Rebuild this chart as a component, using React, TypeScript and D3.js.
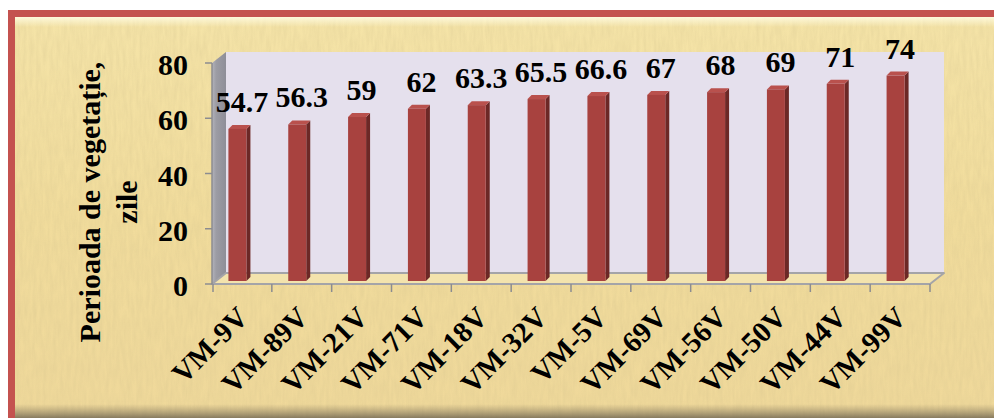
import * as d3 from "d3";

const categories = ["VM-9V", "VM-89V", "VM-21V", "VM-71V", "VM-18V", "VM-32V", "VM-5V", "VM-69V", "VM-56V", "VM-50V", "VM-44V", "VM-99V"];
const values = [54.7, 56.3, 59, 62, 63.3, 65.5, 66.6, 67, 68, 69, 71, 74];
const valueLabels = ["54.7", "56.3", "59", "62", "63.3", "65.5", "66.6", "67", "68", "69", "71", "74"];
const yTicks = [0, 20, 40, 60, 80];
const titleLines = ["Perioada de vegetație,", "zile"];

const W = 994;
const H = 418;
const txt = {
  fontFamily: '"Liberation Serif", "Times New Roman", Times, "DejaVu Serif", serif',
  fontWeight: 700,
} as const;

export default function App() {
  // front plane of the 3D box, back wall shifted by depth
  const depth = { dx: 14, dy: -11 };
  const x = d3.scaleBand().domain(categories).range([212, 930]);
  const y = d3.scaleLinear().domain([0, 80]).range([284, 63]);
  const bw = x.bandwidth();
  const barW = 18;
  const barD = 4;

  const x0 = 212;
  const x1 = 930;
  const yb = y(0);
  const yt = y(80);

  return (
    <svg width={W} height={H} style={{ position: "absolute", left: 0, top: 0 }}>
      <defs>
        <linearGradient id="paper" x1="0" y1="0" x2="0" y2="1">
          <stop offset="0" stopColor="#f5e4a8" />
          <stop offset="0.5" stopColor="#f1dc9c" />
          <stop offset="1" stopColor="#efd89a" />
        </linearGradient>
        <linearGradient id="shadow" x1="0" y1="0" x2="0" y2="1">
          <stop offset="0" stopColor="#8a7d60" stopOpacity="0" />
          <stop offset="1" stopColor="#6e6450" stopOpacity="0.8" />
        </linearGradient>
        <linearGradient id="bevel" x1="0" y1="0" x2="0" y2="1">
          <stop offset="0" stopColor="#fffbe0" stopOpacity="0.9" />
          <stop offset="1" stopColor="#fffbe0" stopOpacity="0" />
        </linearGradient>
        <linearGradient id="side" x1="0" y1="0" x2="1" y2="0">
          <stop offset="0" stopColor="#b4b4bc" />
          <stop offset="0.3" stopColor="#9c9ca4" />
          <stop offset="1" stopColor="#8e8e98" />
        </linearGradient>
        <filter id="grain" x="0" y="0" width="100%" height="100%">
          <feTurbulence type="fractalNoise" baseFrequency="0.3 0.05" numOctaves="3" seed="4" />
          <feColorMatrix
            type="matrix"
            values="0 0 0 0 0.6  0 0 0 0 0.5  0 0 0 0 0.25  0 0 0 0.5 -0.12"
          />
        </filter>
      </defs>

      {/* paper background and frame */}
      <rect x={0} y={0} width={W} height={H} fill="#ffffff" />
      <rect x={8} y={10} width={W - 8} height={H - 10} fill="url(#paper)" />
      <rect x={8} y={10} width={W - 8} height={H - 10} filter="url(#grain)" opacity={0.7} />
      <rect x={15} y={17} width={W - 15} height={10} fill="url(#bevel)" />
      <rect x={8} y={404} width={W - 8} height={14} fill="url(#shadow)" />
      <rect x={8} y={10} width={W - 8} height={7} fill="#c4524f" />
      <rect x={8} y={10} width={7} height={H - 10} fill="#c4524f" />

      {/* back wall */}
      <rect
        x={x0 + depth.dx}
        y={yt + depth.dy}
        width={x1 - x0}
        height={yb - yt}
        fill="#e5e0ed"
      />
      {/* side wall */}
      <polygon
        points={[
          [x0, yb],
          [x0, yt],
          [x0 + depth.dx, yt + depth.dy],
          [x0 + depth.dx, yb + depth.dy],
        ].join(" ")}
        fill="url(#side)"
      />
      {/* floor */}
      <polygon
        points={[
          [x0, yb],
          [x1, yb],
          [x1 + depth.dx, yb + depth.dy],
          [x0 + depth.dx, yb + depth.dy],
        ].join(" ")}
        fill="#f3e3ad"
        stroke="#a4a4a8"
        strokeWidth={2}
        strokeLinejoin="round"
      />

      {/* y axis */}
      <line x1={x0} x2={x0} y1={yt} y2={yb} stroke="#8c8c90" strokeWidth={1.5} />
      {yTicks.map((t) => (
        <g key={t}>
          <line x1={x0 - 7} x2={x0} y1={y(t)} y2={y(t)} stroke="#8c8c90" strokeWidth={1.5} />
          <text x={188} y={y(t) + 12} textAnchor="end" fontSize={30} fill="#000" style={txt}>
            {t}
          </text>
        </g>
      ))}

      {/* x axis ticks */}
      {categories.map((c, i) => (
        <line
          key={c}
          x1={x(c)! + (i === 0 ? 1 : 0)}
          x2={x(c)! + (i === 0 ? 1 : 0)}
          y1={yb}
          y2={yb + 8}
          stroke="#8c8c90"
          strokeWidth={1.5}
        />
      ))}
      <line x1={x1} x2={x1} y1={yb} y2={yb + 8} stroke="#8c8c90" strokeWidth={1.5} />

      {/* bars */}
      {categories.map((c, i) => {
        const cx = x(c)! + bw / 2;
        const bx = cx - 13.5;
        const top = y(values[i]) - 4;
        const bot = yb - 3;
        return (
          <g key={c}>
            <polygon
              points={[
                [bx + barW, top],
                [bx + barW + barD, top - barD],
                [bx + barW + barD, bot - barD],
                [bx + barW, bot],
              ].join(" ")}
              fill="#6c2826"
            />
            <polygon
              points={[
                [bx, top],
                [bx + barW, top],
                [bx + barW + barD, top - barD],
                [bx + barD, top - barD],
              ].join(" ")}
              fill="#b9514d"
            />
            <rect x={bx} y={top} width={barW} height={bot - top} fill="#a8423f" />
            <text
              x={cx}
              y={y(values[i]) - 21}
              textAnchor="middle"
              fontSize={30}
              fill="#000"
              style={txt}
            >
              {valueLabels[i]}
            </text>
          </g>
        );
      })}

      {/* category labels */}
      {categories.map((c) => {
        const cx = x(c)! + bw / 2;
        return (
          <text
            key={c}
            transform={`translate(${cx - 6},305) rotate(-45)`}
            dy="0.68em"
            textAnchor="end"
            fontSize={29}
            fill="#000"
            style={txt}
          >
            {c}
          </text>
        );
      })}

      {/* axis title */}
      <text
        transform="translate(100,202) rotate(-90)"
        textAnchor="middle"
        fontSize={30}
        fill="#000"
        style={txt}
      >
        <tspan x={0} dy={0}>
          {titleLines[0]}
        </tspan>
        <tspan x={0} dy={37}>
          {titleLines[1]}
        </tspan>
      </text>
    </svg>
  );
}
